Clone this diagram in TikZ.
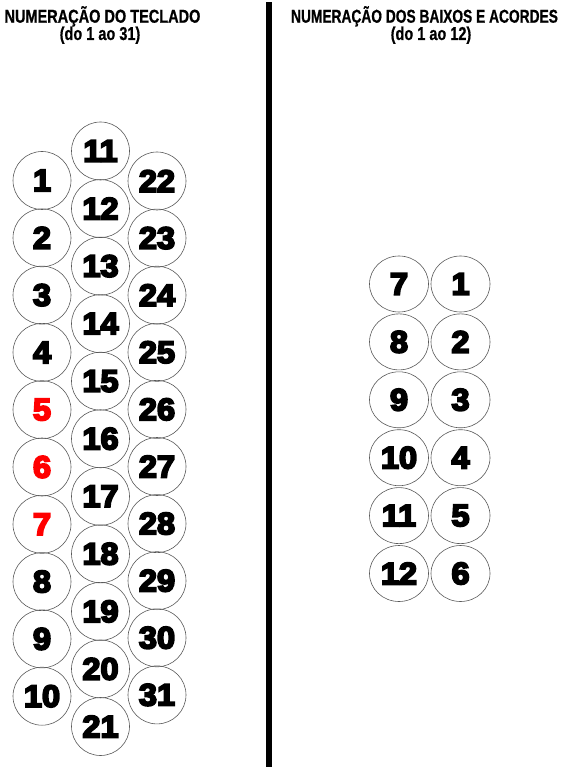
\documentclass[tikz,border=0pt]{standalone}
\usepackage{fontspec}
\usetikzlibrary{shapes.geometric}
\newfontfamily\titlefont[FakeStretch=0.78,FakeBold=0.7]{Liberation Sans}
\newfontfamily\titlefontb[FakeStretch=0.74,FakeBold=0.7]{Liberation Sans}
\newfontfamily\numfont[FakeBold=6,FakeStretch=1.05]{Liberation Sans}
\begin{document}
\begin{tikzpicture}[x=1pt,y=-1pt,
  key/.style={draw=black!65, line width=0.6pt, circle, minimum size=58pt, inner sep=0pt,
    font=\numfont\bfseries\fontsize{31}{31}\selectfont},
  bass/.style={draw=black!65, line width=0.6pt, ellipse, minimum width=59pt, minimum height=56pt, inner sep=0pt,
    font=\numfont\bfseries\fontsize{31}{31}\selectfont},
  title/.style={font=\titlefont\bfseries\fontsize{18.6}{20}\selectfont, inner sep=0pt, anchor=base},
  titleb/.style={font=\titlefontb\bfseries\fontsize{18.6}{20}\selectfont, inner sep=0pt, anchor=base}]
\useasboundingbox (0,0) rectangle (580,767);
% titles
\node[title] (t1) at (102.5,22.7) {NUMERAÇÃO DO TECLADO};
\node[title] (t2) at (100,40) {(do 1 ao 31)};
\node[titleb] (t3) at (424.5,22.7) {NUMERAÇÃO DOS BAIXOS E ACORDES};
\node[title] (t4) at (431,40) {(do 1 ao 12)};
% divider
\fill[black] (266,2) rectangle (272,767);
% keyboard left column
\foreach \i/\c in {1/black,2/black,3/black,4/black,5/red,6/red,7/red,8/black,9/black,10/black}
  \node[key, text=\c] (k\i) at (42, {180.5+57.3*(\i-1)}) {\i};
% middle column
\foreach \i in {11,...,21}
  \node[key] (k\i) at (100.5, {151+57.55*(\i-11)}) {\i};
% right column
\foreach \i in {22,...,31}
  \node[key] (k\i) at (157, {181+57.1*(\i-22)}) {\i};
% bass
\foreach \i in {1,...,6}
  \node[bass] (b\i) at (460.5, {284+57.9*(\i-1)}) {\i};
\foreach \i in {7,...,12}
  \node[bass] (b\i) at (399, {284+57.9*(\i-7)}) {\i};
\end{tikzpicture}
\end{document}
